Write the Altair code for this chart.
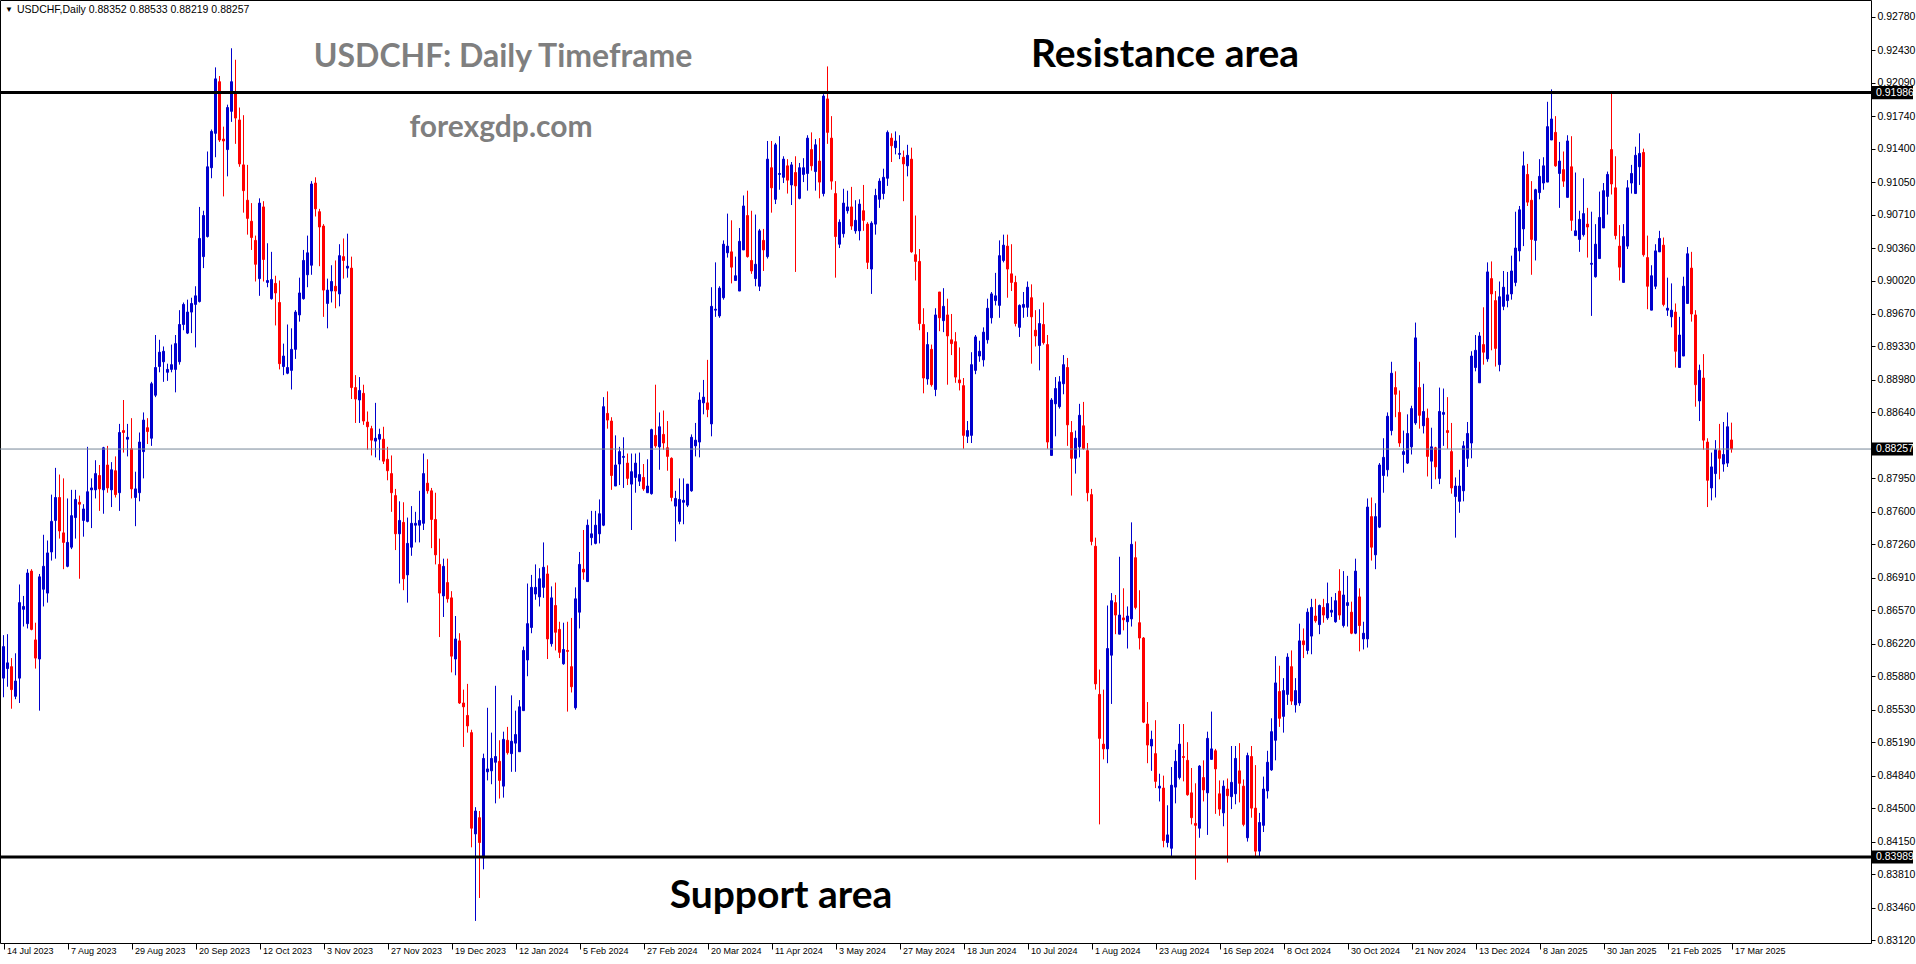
import glob
import altair as alt
import pandas as pd

# ---------------- data ----------------
OPEN = [
.8586,.8596,.8598,.8567,.8586,.8658,.8643,.8698,.8626,.8606,
.8679,.8675,.8718,.8751,.8775,.8738,.8703,.8723,.8754,.8770,
.8751,.8750,.8783,.8783,.8798,.8783,.8809,.8783,.8803,.8780,
.8845,.8836,.8826,.8775,.8780,.8823,.8848,.8837,.8882,.8912,
.8917,.8906,.8909,.8909,.8917,.8956,.8947,.8969,.8977,.8980,
.9027,.9048,.9120,.9156,.9210,.9150,.9139,.9179,.9198,.9170,
.9123,.9086,.9064,.9044,.9004,.9079,.9000,.8983,.8999,.8979,
.8912,.8905,.8908,.8930,.8966,.8983,.9008,.9018,.9104,.9074,
.9059,.8978,.8991,.8996,.8988,.9027,.9015,.9015,.8890,.8877,
.8884,.8854,.8847,.8834,.8836,.8836,.8815,.8800,.8777,.8737,
.8749,.8694,.8723,.8746,.8746,.8748,.8790,.8782,.8752,.8705,
.8672,.8686,.8670,.8606,.8625,.8560,.8547,.8529,.8423,.8440,
.8398,.8488,.8489,.8498,.8499,.8473,.8521,.8507,.8518,.8509,
.8552,.8605,.8639,.8674,.8671,.8681,.8695,.8622,.8662,.8637,
.8601,.8615,.8598,.8555,.8655,.8700,.8687,.8733,.8727,.8737,
.8746,.8863,.8855,.8787,.8810,.8817,.8811,.8789,.8796,.8792,
.8796,.8780,.8779,.8840,.8828,.8841,.8827,.8816,.8766,.8750,
.8770,.8767,.8782,.8829,.8833,.8874,.8874,.8852,.8971,.8965,
.8984,.9031,.9032,.9002,.8991,.9034,.9070,.9023,.9004,.8996,
.9044,.9027,.9120,.9087,.9113,.9110,.9122,.9102,.9115,.9088,
.9113,.9114,.9139,.9116,.9127,.9093,.9192,.9151,.9093,.9040,
.9051,.9075,.9079,.9054,.9054,.9075,.9061,.9014,.9061,.9087,
.9093,.9109,.9151,.9141,.9134,.9131,.9122,.9129,.9029,.9022,
.8956,.8899,.8930,.8888,.8990,.8960,.8966,.8940,.8938,.8898,
.8892,.8839,.8840,.8908,.8923,.8919,.8940,.8963,.8981,.8976,
.9023,.9038,.9009,.9000,.8953,.8974,.8974,.8984,.8950,.8934,
.8956,.8935,.8819,.8873,.8870,.8894,.8911,.8843,.8816,.8828,
.8850,.8824,.8778,.8724,.8569,.8517,.8512,.8610,.8665,.8632,
.8649,.8645,.8648,.8712,.8644,.8628,.8538,.8515,.8507,.8471,
.8471,.8414,.8408,.8472,.8482,.8504,.8500,.8466,.8434,.8429,
.8482,.8466,.8501,.8510,.8465,.8445,.8470,.8462,.8465,.8489,
.8473,.8419,.8504,.8450,.8405,.8432,.8468,.8490,.8521,.8572,
.8546,.8569,.8598,.8558,.8560,.8625,.8615,.8630,.8651,.8642,
.8660,.8649,.8655,.8645,.8677,.8641,.8662,.8655,.8633,.8671,
.8627,.8627,.8755,.8715,.8744,.8798,.8804,.8845,.8890,.8864,
.8820,.8811,.8828,.8853,.8890,.8850,.8858,.8813,.8827,.8795,
.8862,.8845,.8823,.8776,.8771,.8782,.8816,.8832,.8911,.8895,
.8935,.8920,.9004,.8981,.8914,.8975,.8981,.8988,.9000,.9033,
.9056,.9113,.9086,.9044,.9094,.9104,.9105,.9149,.9157,.9114,
.9118,.9089,.9121,.9049,.9045,.9050,.9061,.9019,.9006,.9025,
.9057,.9090,.9139,.9099,.9038,.9000,.9038,.9104,.9093,.9121,
.9136,.9026,.8971,.8996,.9032,.9039,.8971,.8964,.8969,.8911,
.8923,.8978,.9015,.8966,.8876,.8900,.8833,.8785,.8800,.8824,
.8810,.8811,.88352,
]
HIGH = [
.8631,.8632,.8607,.8612,.8684,.8672,.8700,.8700,.8644,.8695,
.8736,.8730,.8778,.8806,.8799,.8795,.8774,.8783,.8783,.8777,
.8768,.8828,.8795,.8814,.8809,.8828,.8829,.8812,.8818,.8852,
.8877,.8852,.8858,.8802,.8843,.8864,.8858,.8896,.8945,.8940,
.8933,.8915,.8935,.8945,.8971,.8979,.8982,.8984,.8996,.9079,
.9075,.9137,.9160,.9225,.9216,.9163,.9186,.9245,.9233,.9183,
.9175,.9123,.9083,.9049,.9088,.9085,.9041,.9032,.9007,.9002,
.8936,.8956,.8952,.8971,.9005,.9034,.9049,.9106,.9110,.9077,
.9061,.9004,.9018,.9023,.9040,.9046,.9051,.9027,.8903,.8901,
.8893,.8865,.8850,.8874,.8847,.8849,.8828,.8819,.8784,.8771,
.8770,.8754,.8766,.8760,.8782,.8821,.8815,.8785,.8780,.8732,
.8711,.8711,.8677,.8651,.8633,.8574,.8580,.8532,.8451,.8447,
.8507,.8555,.8529,.8578,.8521,.8530,.8535,.8568,.8552,.8563,
.8619,.8685,.8694,.8705,.8701,.8728,.8704,.8682,.8686,.8645,
.8644,.8645,.8649,.8681,.8718,.8741,.8752,.8761,.8761,.8773,
.8880,.8886,.8859,.8840,.8828,.8838,.8821,.8821,.8821,.8822,
.8810,.8815,.8847,.8893,.8864,.8866,.8855,.8817,.8782,.8795,
.8795,.8789,.8841,.8853,.8885,.8898,.8919,.8995,.9021,.8996,
.9044,.9072,.9065,.9027,.9057,.9091,.9096,.9075,.9071,.9056,
.9056,.9148,.9148,.9146,.9153,.9132,.9129,.9126,.9132,.9125,
.9130,.9154,.9157,.9150,.9151,.9197,.9226,.9174,.9106,.9066,
.9098,.9096,.9100,.9086,.9087,.9102,.9063,.9064,.9098,.9109,
.9119,.9159,.9156,.9158,.9154,.9138,.9144,.9141,.9070,.9035,
.8973,.8948,.8935,.8973,.8990,.8994,.8983,.8967,.8948,.8932,
.8900,.8855,.8927,.8945,.8939,.8953,.8983,.8990,.9010,.9044,
.9050,.9050,.9040,.9007,.8977,.8990,.9001,.8998,.8971,.8972,
.8979,.8945,.8879,.8901,.8902,.8924,.8921,.8855,.8845,.8873,
.8875,.8832,.8784,.8733,.8595,.8574,.8662,.8675,.8673,.8713,
.8680,.8661,.8749,.8729,.8678,.8629,.8561,.8531,.8542,.8486,
.8484,.8453,.8493,.8511,.8538,.8538,.8519,.8492,.8476,.8495,
.8500,.8530,.8551,.8512,.8479,.8479,.8481,.8515,.8515,.8518,
.8480,.8508,.8515,.8495,.8445,.8483,.8510,.8544,.8609,.8599,
.8586,.8612,.8615,.8586,.8643,.8638,.8659,.8669,.8669,.8663,
.8669,.8686,.8671,.8675,.8700,.8698,.8693,.8666,.8711,.8680,
.8645,.8774,.8775,.8769,.8811,.8837,.8864,.8917,.8907,.8887,
.8845,.8862,.8871,.8958,.8917,.8894,.8868,.8848,.8828,.8890,
.8889,.8880,.8853,.8796,.8804,.8834,.8854,.8928,.8945,.8948,
.8974,.9021,.9022,.8991,.9001,.9012,.9011,.9028,.9074,.9080,
.9137,.9124,.9106,.9098,.9129,.9131,.9189,.9202,.9174,.9147,
.9137,.9154,.9153,.9115,.9075,.9109,.9078,.9074,.9061,.9095,
.9104,.9116,.9198,.9132,.9060,.9061,.9107,.9123,.9142,.9156,
.9140,.9049,.9018,.9040,.9054,.9047,.9005,.8999,.8978,.8964,
.9006,.9037,.9032,.8971,.8914,.8925,.8837,.8822,.8835,.8852,
.8854,.8864,.88533,
]
LOW = [
.8566,.8577,.8554,.8564,.8560,.8640,.8638,.8636,.8596,.8552,
.8661,.8665,.8709,.8711,.8732,.8700,.8702,.8721,.8732,.8690,
.8734,.8749,.8743,.8774,.8761,.8758,.8780,.8765,.8775,.8761,
.8822,.8818,.8774,.8745,.8771,.8795,.8831,.8829,.8880,.8906,
.8896,.8897,.8906,.8885,.8914,.8950,.8946,.8947,.8932,.8979,
.9015,.9047,.9109,.9131,.9147,.9090,.9111,.9168,.9145,.9121,
.9073,.9050,.9034,.9001,.8986,.9001,.8995,.8982,.8955,.8909,
.8903,.8904,.8888,.8920,.8959,.8982,.8995,.9008,.9069,.9017,
.8964,.8952,.8979,.8973,.8975,.9004,.9005,.8878,.8853,.8853,
.8851,.8825,.8819,.8817,.8814,.8810,.8793,.8760,.8720,.8685,
.8678,.8665,.8714,.8728,.8728,.8741,.8779,.8722,.8705,.8629,
.8650,.8665,.8592,.8589,.8559,.8514,.8529,.8409,.8332,.8356,
.8386,.8479,.8475,.8455,.8460,.8461,.8506,.8488,.8488,.8509,
.8552,.8588,.8633,.8668,.8661,.8670,.8606,.8619,.8615,.8607,
.8600,.8551,.8571,.8553,.8638,.8689,.8687,.8725,.8726,.8727,
.8745,.8847,.8783,.8787,.8788,.8785,.8788,.8741,.8780,.8787,
.8782,.8780,.8778,.8827,.8804,.8825,.8803,.8771,.8729,.8747,
.8747,.8765,.8781,.8818,.8817,.8862,.8859,.8839,.8964,.8963,
.8982,.9026,.8999,.9002,.8991,.9034,.9026,.9009,.8996,.8991,
.9012,.9025,.9073,.9082,.9097,.9104,.9093,.9081,.9011,.9087,
.9105,.9096,.9117,.9096,.9088,.9090,.9145,.9097,.9005,.9036,
.9047,.9072,.9055,.9051,.9044,.9054,.9014,.8988,.9050,.9078,
.9087,.9101,.9126,.9134,.9129,.9085,.9111,.9031,.9002,.8950,
.8884,.8893,.8891,.8881,.8949,.8948,.8893,.8924,.8895,.8887,
.8826,.8832,.8832,.8904,.8917,.8912,.8936,.8957,.8976,.8963,
.9021,.8984,.8991,.8954,.8943,.8963,.8964,.8915,.8933,.8908,
.8935,.8826,.8819,.8839,.8868,.8883,.8829,.8777,.8800,.8817,
.8825,.8771,.8725,.8574,.8433,.8501,.8497,.8559,.8632,.8632,
.8636,.8617,.8640,.8658,.8616,.8539,.8497,.8489,.8471,.8457,
.8409,.8409,.8399,.8455,.8480,.8478,.8463,.8433,.8375,.8419,
.8457,.8422,.8501,.8444,.8442,.8431,.8393,.8449,.8454,.8456,
.8431,.8415,.8440,.8399,.8399,.8425,.8460,.8489,.8500,.8535,
.8529,.8558,.8558,.8550,.8557,.8607,.8611,.8611,.8644,.8632,
.8644,.8647,.8650,.8644,.8647,.8639,.8640,.8632,.8632,.8614,
.8616,.8618,.8709,.8700,.8743,.8780,.8797,.8840,.8859,.8828,
.8801,.8810,.8820,.8851,.8847,.8842,.8797,.8784,.8794,.8789,
.8829,.8826,.8779,.8733,.8759,.8771,.8807,.8816,.8907,.8895,
.8914,.8917,.8929,.8912,.8907,.8971,.8974,.8982,.8996,.9022,
.9038,.9080,.9008,.9023,.9087,.9097,.9105,.9149,.9121,.9078,
.9100,.9089,.9054,.9049,.9032,.9048,.9026,.8965,.9005,.9025,
.9057,.9071,.9092,.9045,.9002,.9000,.9035,.9093,.9093,.9102,
.9027,.8972,.8971,.8993,.9032,.8975,.8965,.8953,.8911,.8911,
.8923,.8978,.8959,.8870,.8855,.8825,.8765,.8772,.8775,.8794,
.8802,.8807,.88219,
]
CLOSE = [
.8619,.8602,.8574,.8583,.8665,.8661,.8696,.8637,.8607,.8692,
.8703,.8717,.8750,.8775,.8740,.8728,.8728,.8756,.8773,.8768,
.8763,.8781,.8785,.8800,.8784,.8827,.8785,.8804,.8778,.8843,
.8843,.8838,.8784,.8784,.8833,.8856,.8844,.8894,.8911,.8927,
.8928,.8909,.8914,.8936,.8956,.8977,.8969,.8978,.8986,.9046,
.9070,.9121,.9158,.9213,.9149,.9148,.9183,.9210,.9172,.9124,
.9096,.9067,.9047,.9019,.9083,.9024,.9002,.9003,.8989,.8915,
.8923,.8911,.8930,.8969,.8989,.9023,.9031,.9103,.9077,.9058,
.8992,.8992,.9001,.8991,.9028,.9023,.9017,.8890,.8878,.8887,
.8855,.8849,.8835,.8837,.8841,.8813,.8803,.8780,.8737,.8751,
.8690,.8727,.8748,.8748,.8751,.8800,.8782,.8752,.8715,.8675,
.8703,.8669,.8609,.8627,.8560,.8556,.8536,.8429,.8447,.8414,
.8502,.8491,.8502,.8504,.8479,.8522,.8508,.8520,.8527,.8556,
.8615,.8643,.8681,.8681,.8690,.8702,.8627,.8670,.8634,.8613,
.8616,.8614,.8577,.8669,.8705,.8697,.8746,.8737,.8746,.8758,
.8870,.8856,.8798,.8809,.8823,.8818,.8795,.8802,.8811,.8799,
.8784,.8787,.8846,.8829,.8849,.8832,.8818,.8775,.8774,.8773,
.8772,.8789,.8838,.8835,.8877,.8880,.8867,.8975,.8972,.8994,
.9040,.9038,.9016,.9007,.9043,.9080,.9027,.9012,.9019,.9054,
.9034,.9129,.9099,.9144,.9114,.9129,.9107,.9123,.9101,.9120,
.9120,.9151,.9122,.9144,.9105,.9195,.9157,.9106,.9048,.9063,
.9083,.9079,.9059,.9065,.9082,.9065,.9021,.9062,.9091,.9106,
.9110,.9157,.9143,.9148,.9135,.9124,.9133,.9032,.9022,.8957,
.8900,.8935,.8893,.8966,.8963,.8975,.8944,.8936,.8901,.8895,
.8840,.8845,.8914,.8943,.8928,.8948,.8973,.8988,.8986,.9028,
.9039,.9014,.9000,.8957,.8976,.8977,.8995,.8964,.8944,.8957,
.8937,.8833,.8877,.8889,.8896,.8914,.8851,.8816,.8837,.8861,
.8826,.8780,.8729,.8580,.8523,.8512,.8617,.8667,.8652,.8652,
.8647,.8651,.8726,.8660,.8628,.8540,.8516,.8522,.8478,.8473,
.8416,.8422,.8474,.8499,.8517,.8503,.8464,.8440,.8432,.8494,
.8469,.8523,.8512,.8491,.8449,.8473,.8463,.8477,.8502,.8476,
.8433,.8505,.8450,.8405,.8435,.8470,.8498,.8530,.8581,.8544,
.8573,.8608,.8562,.8573,.8625,.8621,.8655,.8660,.8646,.8662,
.8652,.8664,.8657,.8667,.8652,.8673,.8665,.8633,.8698,.8641,
.8633,.8765,.8723,.8755,.8809,.8817,.8860,.8905,.8883,.8832,
.8823,.8842,.8868,.8942,.8861,.8865,.8818,.8828,.8807,.8865,
.8864,.8843,.8785,.8787,.8787,.8829,.8842,.8923,.8929,.8944,
.8927,.9011,.8988,.8931,.8985,.8995,.8987,.9012,.9036,.9076,
.9122,.9084,.9045,.9097,.9111,.9122,.9163,.9171,.9122,.9127,
.9106,.9148,.9065,.9054,.9066,.9072,.9058,.9020,.9040,.9068,
.9096,.9113,.9103,.9049,.9016,.9048,.9099,.9114,.9133,.9135,
.9029,.8996,.9007,.9033,.9046,.8977,.8973,.8971,.8928,.8945,
.8996,.9030,.8967,.8893,.8908,.8835,.8793,.8807,.8825,.8816,
.8820,.8849,.88257,
]

DATE_LABELS = [
    "14 Jul 2023", "7 Aug 2023", "29 Aug 2023", "20 Sep 2023", "12 Oct 2023",
    "3 Nov 2023", "27 Nov 2023", "19 Dec 2023", "12 Jan 2024", "5 Feb 2024",
    "27 Feb 2024", "20 Mar 2024", "11 Apr 2024", "3 May 2024", "27 May 2024",
    "18 Jun 2024", "10 Jul 2024", "1 Aug 2024", "23 Aug 2024", "16 Sep 2024",
    "8 Oct 2024", "30 Oct 2024", "21 Nov 2024", "13 Dec 2024", "8 Jan 2025",
    "30 Jan 2025", "21 Feb 2025", "17 Mar 2025",
]
LABEL_STEP = 16  # bars between date labels

Y_TICKS = [0.92780, 0.92430, 0.92090, 0.91740, 0.91400, 0.91050, 0.90710,
           0.90360, 0.90020, 0.89670, 0.89330, 0.88980, 0.88640, 0.87950,
           0.87600, 0.87260, 0.86910, 0.86570, 0.86220, 0.85880, 0.85530,
           0.85190, 0.84840, 0.84500, 0.84150, 0.83810, 0.83460, 0.83120]

RESISTANCE = 0.91986
SUPPORT = 0.83989
LAST_PRICE = 0.88257
HEADER = "USDCHF,Daily  0.88352 0.88533 0.88219 0.88257"
TITLE = "USDCHF: Daily Timeframe"
SITE = "forexgdp.com"
RES_TEXT = "Resistance area"
SUP_TEXT = "Support area"

# ---------------- chart ----------------
W, H = 1871, 943
AXFONT = "Liberation Sans"
TITLEFONT = "Lato"

# a condensed face for the date labels, if the system has one
_narrow = glob.glob("/usr/share/fonts/**/LiberationSansNarrow-Regular*", recursive=True)
_dcond = glob.glob("/usr/share/fonts/**/DejaVuSansCondensed.ttf", recursive=True)
if _narrow:
    XFONT, XSIZE = "Liberation Sans Narrow", 10.5
else:
    XFONT, XSIZE = "Liberation Sans", 9

df = pd.DataFrame({"bar": list(range(len(OPEN))), "open": OPEN, "high": HIGH,
                   "low": LOW, "close": CLOSE})

xscale = alt.Scale(domain=[-0.875, 466.875], nice=False, zero=False)
yscale = alt.Scale(domain=[0.83089, 0.92955], nice=False, zero=False)
cscale = alt.Scale(domain=["up", "down"], range=["#0000CD", "#FF0000"])

label_arr = "[" + ",".join("'" + s + "'" for s in DATE_LABELS) + "]"
x_values = [i * LABEL_STEP for i in range(len(DATE_LABELS))]

XAXIS = alt.Axis(
    values=x_values, labelExpr=label_arr + "[round(datum.value / %d)]" % LABEL_STEP,
    orient="bottom", title=None, grid=False, domain=False, ticks=True,
    tickColor="black", tickSize=6, tickWidth=1, labelFont=XFONT, labelFontSize=XSIZE,
    labelColor="black", labelAlign="left", labelBaseline="top", labelOffset=3,
    labelPadding=-3, labelOverlap=False, labelBound=False, labelFlush=False)
YAXIS = alt.Axis(
    values=Y_TICKS, format=".5f", orient="right", title=None, grid=False,
    domain=False, ticks=True, tickColor="black", tickSize=4, tickWidth=1,
    labelPadding=2, labelFont=AXFONT, labelFontSize=10.5, labelColor="black",
    labelOverlap=False, labelBound=False, labelFlush=False)

base = alt.Chart(df).transform_calculate(
    dir="datum.close >= datum.open ? 'up' : 'down'",
    xl="datum.bar - 0.25",
    xr="datum.bar + 0.25",
)

wicks = base.mark_rule(strokeWidth=1).encode(
    x=alt.X("bar:Q", scale=xscale, axis=XAXIS),
    y=alt.Y("low:Q", scale=yscale, axis=YAXIS),
    y2="high:Q",
    color=alt.Color("dir:N", scale=cscale, legend=None),
)

bodies = base.mark_rect(strokeWidth=1).encode(
    x=alt.X("xl:Q", scale=xscale, axis=XAXIS),
    x2="xr:Q",
    y=alt.Y("open:Q", scale=yscale, axis=YAXIS),
    y2="close:Q",
    color=alt.Color("dir:N", scale=cscale, legend=None),
    stroke=alt.Stroke("dir:N", scale=cscale, legend=None),
)

last_line = alt.Chart(pd.DataFrame({"level": [LAST_PRICE]})).mark_rule(
    color="#778899", strokeWidth=1).encode(
    y=alt.Y("level:Q", scale=yscale, axis=YAXIS),
    x=alt.value(0), x2=alt.value(W))

sr_lines = alt.Chart(pd.DataFrame({"level": [RESISTANCE, SUPPORT]})).mark_rule(
    color="black", strokeWidth=3).encode(
    y=alt.Y("level:Q", scale=yscale, axis=YAXIS),
    x=alt.value(0), x2=alt.value(W))

box_df = pd.DataFrame({"level": [RESISTANCE, LAST_PRICE, SUPPORT]})
box_df["txt"] = box_df["level"].map(lambda v: "%.5f" % v)
BOX = "M-1,-0.32L1,-0.32L1,0.32L-1,0.32Z"
boxes = alt.Chart(box_df).mark_point(
    shape=BOX, filled=True, color="black", opacity=1, size=41 * 41, strokeWidth=0).encode(
    y=alt.Y("level:Q", scale=yscale, axis=YAXIS), x=alt.value(W + 1 + 20.5))
box_text = alt.Chart(box_df).mark_text(
    align="left", baseline="middle", font=AXFONT, fontSize=10.5, color="white").encode(
    y=alt.Y("level:Q", scale=yscale, axis=YAXIS), x=alt.value(W + 5), text="txt:N")


def label(text, x, y, size, color, font, weight="normal", align="left", baseline="middle"):
    return alt.Chart(pd.DataFrame({"t": [text]})).mark_text(
        align=align, baseline=baseline, font=font, fontSize=size,
        fontWeight=weight, color=color).encode(
        x=alt.value(x), y=alt.value(y), text="t:N")


header_tri = label("\u25BC", 5, 10, 8, "black", AXFONT)
header = label(HEADER, 17, 10, 10.5, "black", AXFONT)
title = label(TITLE, 503, 67, 32, "#7f7f7f", TITLEFONT, "bold", "center", "alphabetic")
site = label(SITE, 501, 137, 30, "#7f7f7f", TITLEFONT, "bold", "center", "alphabetic")
res_t = label(RES_TEXT, 1165, 67, 39, "black", TITLEFONT, "bold", "center", "alphabetic")
sup_t = label(SUP_TEXT, 781, 908, 39, "black", TITLEFONT, "bold", "center", "alphabetic")

chart = alt.layer(
    wicks, bodies, last_line, sr_lines, boxes, box_text,
    header_tri, header, title, site, res_t, sup_t,
).properties(
    width=W, height=H, autosize="none",
    padding={"left": 0, "top": 0, "right": 1916 - W, "bottom": 964 - H},
    background="white",
).configure_view(stroke="black", strokeWidth=1)

chart.save("out.html", embed_options={"renderer": "svg", "actions": False})
